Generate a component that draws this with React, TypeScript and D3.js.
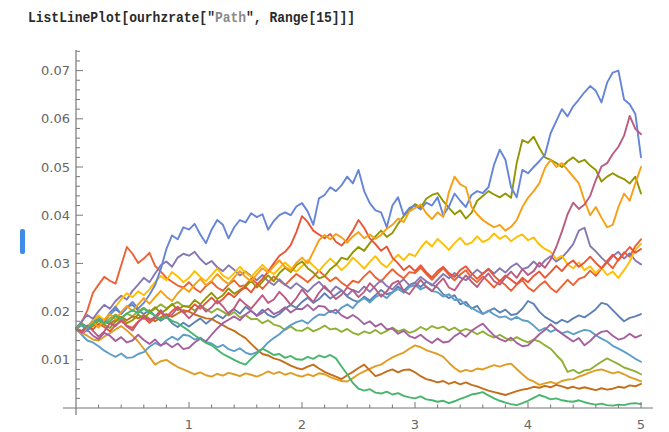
import React from "react";
import * as d3 from "d3";

// values in thousandths (per-mille) at t = 0, 0.05, ..., 5
const TIME_STEP = 0.05;

const path1 = [16.5,17.6,16.8,18.2,19.1,18.0,19.4,20.5,19.6,21.0,21.4,20.2,19.5,20.3,19.0,18.1,18.9,17.6,16.8,17.7,
16.9,17.8,18.6,17.5,18.4,19.3,18.6,19.8,20.5,19.6,21.0,20.1,19.2,20.4,19.3,18.8,19.5,20.6,21.4,20.8,
22.0,22.9,21.8,22.6,23.8,22.7,23.5,24.4,23.1,22.4,22.0,23.1,22.3,23.4,24.5,23.6,24.0,25.2,24.3,25.5,
26.0,25.1,26.2,25.6,25.0,23.6,22.8,23.4,21.5,22.0,20.6,21.2,19.5,20.1,20.7,19.8,20.4,19.3,19.5,20.6,
22.2,21.6,20.0,18.9,18.2,17.5,18.3,17.8,18.6,19.2,18.8,19.6,20.5,21.8,21.5,20.3,19.1,18.0,18.7,19.0,19.5];

const path2 = [16.5,15.6,15.0,14.2,14.0,14.8,15.5,16.3,17.0,16.1,15.0,13.8,12.3,10.6,9.0,9.7,10.0,9.2,8.5,8.0,
7.5,7.0,7.4,6.8,6.5,7.1,6.7,7.3,7.0,6.6,7.2,6.9,6.5,7.0,7.6,7.1,7.5,6.9,7.3,6.8,
6.5,7.0,6.6,7.2,7.0,6.4,6.0,5.6,5.5,6.2,7.0,7.6,8.1,8.7,9.0,9.8,10.5,11.0,11.5,12.3,
13.0,12.6,12.0,11.6,11.2,10.6,9.4,8.3,7.5,7.9,7.6,8.2,8.0,8.5,8.9,8.6,9.0,9.2,8.1,7.0,
6.0,5.5,4.8,5.1,5.4,5.0,5.6,5.9,6.0,6.5,6.9,7.4,7.8,8.0,7.6,7.2,7.5,7.0,6.4,6.0,5.5];

const path3 = [16.5,17.2,16.4,17.6,18.3,17.5,18.6,19.4,18.7,19.6,19.0,20.1,20.8,19.9,20.6,21.5,20.7,21.4,22.0,21.1,
21.0,20.2,21.3,20.5,19.8,20.6,20.0,19.2,19.9,18.8,19.3,18.4,18.5,17.6,18.2,17.3,17.0,16.2,16.9,16.1,
16.0,16.7,15.9,16.4,17.1,16.3,16.5,15.8,16.4,15.6,15.2,15.9,15.5,16.2,15.4,16.0,16.7,15.9,16.3,15.6,
16.0,16.8,16.2,17.0,16.5,16.9,16.1,16.7,15.9,16.4,16.0,15.3,15.9,15.1,14.6,15.2,14.5,14.0,14.7,14.1,
13.6,14.2,13.8,13.0,12.3,11.0,9.8,7.5,7.9,7.2,7.8,8.0,8.8,9.6,10.3,9.7,9.1,8.4,8.0,7.6,7.0];

const path4 = [16.5,17.8,20.2,23.9,25.6,27.2,26.4,25.8,29.6,33.4,32.0,30.1,31.0,32.2,29.5,28.3,27.0,26.2,25.4,25.0,
26.1,24.8,24.0,25.3,26.2,25.0,24.3,25.6,26.5,25.2,25.5,26.8,25.9,24.7,26.0,27.3,26.4,25.5,26.7,27.8,
27.0,26.1,27.2,28.5,27.4,26.3,27.1,26.0,25.2,26.4,26.0,27.3,28.4,27.1,26.2,27.6,28.8,27.7,26.9,28.2,
28.0,29.1,27.8,26.6,27.9,29.0,27.6,26.5,27.7,28.6,27.0,26.1,27.3,26.2,25.0,26.4,25.5,24.3,25.6,26.5,
25.0,24.2,25.4,26.3,24.9,24.0,25.3,26.6,25.5,26.8,27.2,28.5,27.4,28.9,30.2,29.0,30.8,32.3,31.4,33.6,35.0];

const path5 = [16.5,18.0,19.3,18.5,20.1,21.4,20.6,22.2,23.3,22.5,24.3,25.6,27.0,26.1,27.9,29.6,30.4,29.3,31.2,32.0,
31.6,32.4,30.9,29.8,30.5,29.2,28.4,29.6,28.7,27.5,28.3,27.4,26.5,27.6,26.3,25.5,26.7,25.6,24.8,25.9,
25.0,24.1,25.3,26.2,24.9,24.0,25.2,24.4,23.3,24.5,24.0,25.2,24.1,25.4,26.5,25.3,24.6,25.8,26.7,25.5,
26.0,27.2,26.3,25.4,26.6,27.8,26.9,28.0,27.1,26.5,27.6,28.7,27.8,28.9,27.9,29.0,28.1,29.3,30.0,28.8,
29.2,30.4,29.3,30.6,31.5,30.4,31.2,32.5,34.0,36.8,37.4,33.6,32.5,31.2,30.1,31.5,32.4,31.0,32.1,30.6,29.8];

const path6 = [16.5,16.0,16.8,17.4,16.9,17.8,17.5,18.3,18.9,18.2,19.0,18.6,19.3,18.5,18.0,18.8,19.5,18.9,19.6,20.3,
20.0,19.4,19.0,18.6,18.5,17.8,17.2,16.5,16.0,15.2,14.5,13.3,12.2,11.2,10.9,10.3,10.0,9.4,8.8,8.3,
8.0,8.6,9.0,8.2,7.5,7.0,6.5,6.0,6.8,7.5,8.3,9.0,7.8,6.6,7.0,7.6,8.0,7.4,7.9,8.0,
7.4,6.6,6.0,5.7,5.3,5.6,5.0,5.4,4.9,5.3,4.8,4.5,4.0,3.6,3.3,3.0,2.7,3.1,3.5,3.8,
4.0,4.4,4.2,4.6,4.3,4.8,4.5,4.1,4.4,4.0,4.3,4.0,3.7,4.1,3.8,4.0,4.4,4.2,4.7,4.5,5.0];

const path7 = [16.5,15.2,14.0,13.6,12.8,11.9,11.2,10.6,11.3,10.4,10.5,11.2,11.6,12.7,13.5,12.9,14.0,14.8,14.1,15.2,
15.0,14.2,14.6,13.7,13.4,12.6,13.1,12.2,11.8,12.4,11.5,11.1,11.6,12.3,13.6,14.5,15.3,16.4,17.2,17.8,
18.2,17.5,18.6,19.4,19.3,20.2,19.6,20.8,21.5,20.7,22.1,22.8,21.9,23.0,23.6,22.8,24.0,24.7,23.9,25.1,
25.5,24.6,25.2,24.3,24.0,23.1,23.6,22.4,22.5,21.3,20.8,20.1,19.5,20.2,19.4,18.8,19.0,18.3,18.9,18.2,
18.0,17.1,16.0,16.6,15.8,16.3,15.5,15.9,15.3,15.8,16.2,16.0,15.1,14.4,13.8,12.9,12.3,11.7,11.0,10.2,9.6];

const path8 = [16.5,17.3,16.4,18.0,19.2,18.3,19.7,21.0,22.6,23.8,23.0,24.2,23.4,24.6,26.1,27.4,26.5,28.2,27.3,26.1,
27.0,28.4,27.2,26.3,27.6,28.9,27.5,26.8,28.0,29.3,28.1,27.2,28.5,29.7,28.6,27.8,29.0,30.2,29.1,28.3,
29.4,30.7,29.5,28.4,29.8,31.0,29.9,28.6,29.7,31.2,30.1,28.9,30.3,31.5,30.0,29.2,30.6,31.8,30.7,32.0,
31.5,33.2,34.6,33.5,35.1,34.0,32.8,34.2,35.3,33.9,34.3,35.6,34.4,35.0,36.2,35.1,35.8,34.6,35.5,36.0,
34.8,35.4,33.9,33.0,32.4,30.9,31.6,29.8,29.0,30.2,28.6,29.4,28.0,29.1,27.6,28.3,27.0,28.6,30.4,32.8,34.1];

const path9 = [16.5,15.4,16.2,15.0,14.3,15.6,15.0,13.9,14.7,13.6,14.0,15.2,14.1,13.3,14.2,13.0,13.5,12.6,13.4,12.2,
12.5,13.6,14.4,13.8,15.2,16.5,17.6,18.3,19.0,18.2,19.4,20.2,19.1,19.8,20.6,19.5,20.0,20.9,19.8,20.6,
20.5,21.4,20.3,21.2,21.0,19.9,20.4,19.2,18.6,19.3,18.5,17.4,18.0,16.9,17.5,16.3,16.5,15.4,16.0,14.9,
14.5,15.2,14.2,13.5,14.4,13.6,13.8,14.9,15.6,14.8,16.0,16.8,17.5,16.2,15.0,14.3,13.8,14.6,13.5,12.8,
13.0,14.1,15.3,16.2,17.4,16.3,15.4,14.6,13.8,14.5,13.0,13.9,15.1,15.8,16.0,15.0,14.2,14.5,15.4,14.6,15.1];

const path10 = [16.5,17.4,16.2,17.0,18.1,17.3,16.6,17.9,18.8,17.6,18.2,19.4,18.5,19.8,20.9,19.7,20.4,21.6,20.3,21.2,
21.0,22.4,21.5,22.8,23.9,22.6,23.4,24.8,23.7,24.5,25.2,26.4,25.0,26.2,27.5,26.3,28.0,29.1,28.2,29.6,
30.4,29.0,28.1,26.9,27.3,28.8,29.7,31.2,30.8,32.3,33.4,32.6,34.2,35.6,36.8,35.5,36.3,38.2,39.8,41.0,
42.3,41.6,43.4,44.2,44.6,42.9,41.5,40.2,41.0,39.3,40.5,43.0,44.0,45.0,44.3,43.7,44.5,43.6,50.8,55.6,
55.0,56.3,54.0,52.0,51.5,50.8,50.0,51.2,52.0,51.0,51.5,50.3,49.4,47.0,48.0,48.7,48.0,47.5,46.6,48.0,44.5];

const path11 = [16.5,15.9,17.0,16.3,17.5,16.8,15.9,17.2,18.0,17.1,16.6,17.9,18.8,17.7,18.6,19.8,18.9,20.1,21.0,19.8,
20.2,21.5,20.6,21.8,22.9,21.7,22.6,23.9,23.0,24.2,25.1,24.0,25.6,26.8,28.3,30.0,31.6,32.4,33.8,36.5,
39.8,38.6,36.8,36.0,35.2,36.1,34.5,33.7,35.0,36.8,39.0,37.4,35.2,34.0,32.6,33.5,31.2,30.0,28.6,29.5,
28.4,29.6,28.2,27.1,28.4,29.3,28.0,27.2,28.6,29.4,28.0,26.8,27.9,28.8,27.4,26.3,27.5,26.6,25.7,27.0,
26.1,27.4,28.3,27.0,28.2,29.5,28.4,29.8,30.6,29.3,30.2,31.4,30.1,29.0,30.5,31.8,30.6,32.0,33.4,32.2,33.0];

const path12 = [16.5,17.2,16.0,17.8,18.5,17.6,19.8,21.0,19.5,20.8,22.0,20.6,21.8,23.5,25.5,28.8,33.0,35.8,35.0,37.5,
37.0,38.2,36.0,34.2,37.0,39.0,38.0,35.2,37.5,39.0,38.5,40.4,39.6,40.2,37.0,38.8,40.0,40.6,40.0,41.8,
42.5,40.8,38.0,43.5,44.2,45.8,45.0,46.2,48.0,46.6,49.4,45.0,42.5,41.0,40.6,37.5,42.0,43.7,40.0,41.5,
42.0,41.2,42.6,42.0,43.7,40.0,41.8,44.5,43.0,41.7,44.2,45.0,44.6,45.8,50.5,53.6,51.5,45.8,43.7,49.4,
48.7,50.0,51.2,52.5,57.0,59.5,62.0,60.5,62.6,64.0,65.5,66.8,65.8,63.4,67.5,69.6,70.0,64.0,63.0,61.0,52.0];

const path13 = [16.5,15.4,16.8,17.9,16.7,18.2,19.5,18.4,19.9,21.2,20.1,21.5,22.8,21.6,23.0,24.3,23.1,22.2,23.8,25.0,
24.1,25.6,26.8,25.5,26.4,27.8,26.6,25.7,27.1,28.4,27.2,26.3,27.7,29.0,28.1,29.4,30.6,29.3,28.5,30.1,
31.2,30.0,32.4,34.8,35.9,35.0,36.1,35.4,34.3,35.6,36.5,35.2,36.0,35.1,35.9,37.2,38.0,39.3,38.6,40.8,
41.5,42.2,40.4,39.2,40.6,39.6,44.8,48.0,46.4,45.8,41.7,40.2,39.0,38.2,37.5,38.0,36.8,37.6,39.0,41.7,
43.6,45.0,46.6,49.8,51.5,50.0,50.8,49.4,48.0,46.6,43.0,40.0,41.7,39.5,37.5,38.0,41.7,44.5,43.0,46.6,50.0];

const path14 = [16.5,15.6,17.1,16.0,14.8,15.9,17.6,17.0,18.4,16.9,16.1,17.8,19.0,18.2,18.9,20.3,18.7,19.4,20.8,19.9,
18.6,19.8,21.4,20.0,20.9,22.3,21.1,19.5,20.7,22.6,21.5,20.6,22.0,23.4,21.8,22.5,24.1,22.9,21.4,22.8,
24.6,23.2,22.0,23.9,25.3,24.0,22.6,23.5,25.0,24.4,23.0,24.1,25.9,24.7,23.1,24.2,25.8,26.4,24.3,23.6,
25.2,26.6,25.1,24.2,25.7,26.9,25.0,24.4,26.1,27.5,26.2,25.1,26.7,27.9,26.3,25.6,27.1,28.3,27.0,28.8,
27.6,28.4,30.2,29.1,30.8,33.4,36.6,40.2,42.6,41.3,42.2,44.0,47.3,50.1,50.8,52.7,54.2,56.5,60.6,57.9,56.8];

const path15 = [16.5,17.3,16.6,17.5,18.4,17.6,18.0,19.1,18.5,19.6,20.3,19.7,20.6,19.8,19.2,18.4,18.9,18.1,17.6,16.8,
16.0,15.1,14.3,13.5,13.0,12.1,11.2,10.6,10.0,9.4,9.0,10.2,11.3,12.3,11.7,11.0,11.2,10.4,10.8,10.1,
10.0,10.6,10.2,10.9,10.5,11.0,10.3,8.6,7.0,5.2,4.0,3.6,3.9,3.2,3.0,3.4,2.8,3.1,2.5,2.2,
2.0,2.4,1.8,1.6,1.3,1.5,1.0,1.4,1.9,2.3,2.8,3.0,3.3,2.6,2.0,1.5,1.1,0.8,0.6,1.0,
1.5,2.1,2.7,2.3,1.8,2.0,1.6,1.4,1.3,1.6,1.2,0.9,0.7,0.9,0.6,0.5,0.7,0.6,0.9,1.0,0.8];

const paths = [path1, path2, path3, path4, path5, path6, path7, path8, path9, path10, path11, path12, path13, path14, path15];
const colors = ["#5E81B5", "#E19C24", "#8FB032", "#EB6235", "#8778B3", "#C56E1A", "#5D9EC7", "#FFBF00",
  "#A5609D", "#929600", "#E95536", "#6685D9", "#F89F13", "#BC5B80", "#47B66D"];

const xTicks = [1, 2, 3, 4, 5];
const xTickLabels = ["1", "2", "3", "4", "5"];
const yTicks = [0.01, 0.02, 0.03, 0.04, 0.05, 0.06, 0.07];
const yTickLabels = ["0.01", "0.02", "0.03", "0.04", "0.05", "0.06", "0.07"];

export default function App() {
  const x = d3.scaleLinear().domain([0, 5]).range([76, 641]);
  const y = d3.scaleLinear().domain([0, 0.07]).range([408, 70.6]);
  const line = d3.line<number>()
    .x((_, i) => x(i * TIME_STEP))
    .y((v) => y(v / 1000));

  const xMinor = d3.range(0.2, 5.01, 0.2).filter((t) => Math.abs(t - Math.round(t)) > 0.01);
  const yMinor = d3.range(0.002, 0.0745, 0.002).filter((v) => Math.abs(v * 100 - Math.round(v * 100)) > 0.01);
  const axisColor = "#777";
  const labelColor = "#666";

  return (
    <svg width={669} height={432} style={{ position: "absolute", left: 0, top: 0, background: "#fff" }}>
      <rect x={0} y={0} width={669} height={432} fill="#fff" />
      <text x={28} y={27} fontFamily="'Liberation Mono', 'DejaVu Sans Mono', monospace" fontWeight="bold"
        fontSize={13} fill="#2a2a2a" transform="translate(0,-4.5) scale(1,1.17)" style={{ transformOrigin: "28px 27px" }}>
        ListLinePlot[ourhzrate["<tspan fill="#8a8a8a">Path</tspan>", Range[15]]]
      </text>
      <rect x={20} y={229} width={5} height={25} rx={2} fill="#3d8de8" />

      {paths.map((p, k) => (
        <path key={k} d={line(p) || ""} fill="none" stroke={colors[k]} strokeWidth={1.9}
          strokeLinejoin="round" strokeLinecap="round" />
      ))}

      {/* axes */}
      <line x1={63} x2={653} y1={y(0)} y2={y(0)} stroke={axisColor} strokeWidth={1.2} />
      <line x1={x(0)} x2={x(0)} y1={415} y2={50} stroke={axisColor} strokeWidth={1.2} />
      {xTicks.map((t, i) => (
        <g key={"xt" + i}>
          <line x1={x(t)} x2={x(t)} y1={y(0)} y2={y(0) - 6} stroke={axisColor} strokeWidth={1} />
          <text x={x(t)} y={429} textAnchor="middle" fontFamily="'DejaVu Sans', sans-serif" fontSize={13}
            fill={labelColor}>{xTickLabels[i]}</text>
        </g>
      ))}
      {xMinor.map((t, i) => (
        <line key={"xm" + i} x1={x(t)} x2={x(t)} y1={y(0)} y2={y(0) - 3.5} stroke={axisColor} strokeWidth={1} />
      ))}
      {yTicks.map((v, i) => (
        <g key={"yt" + i}>
          <line x1={x(0)} x2={x(0) + 7} y1={y(v)} y2={y(v)} stroke={axisColor} strokeWidth={1} />
          <text x={70} y={y(v) + 4.5} textAnchor="end" fontFamily="'DejaVu Sans', sans-serif" fontSize={13}
            fill={labelColor}>{yTickLabels[i]}</text>
        </g>
      ))}
      {yMinor.map((v, i) => (
        <line key={"ym" + i} x1={x(0)} x2={x(0) + 4} y1={y(v)} y2={y(v)} stroke={axisColor} strokeWidth={1} />
      ))}
    </svg>
  );
}
